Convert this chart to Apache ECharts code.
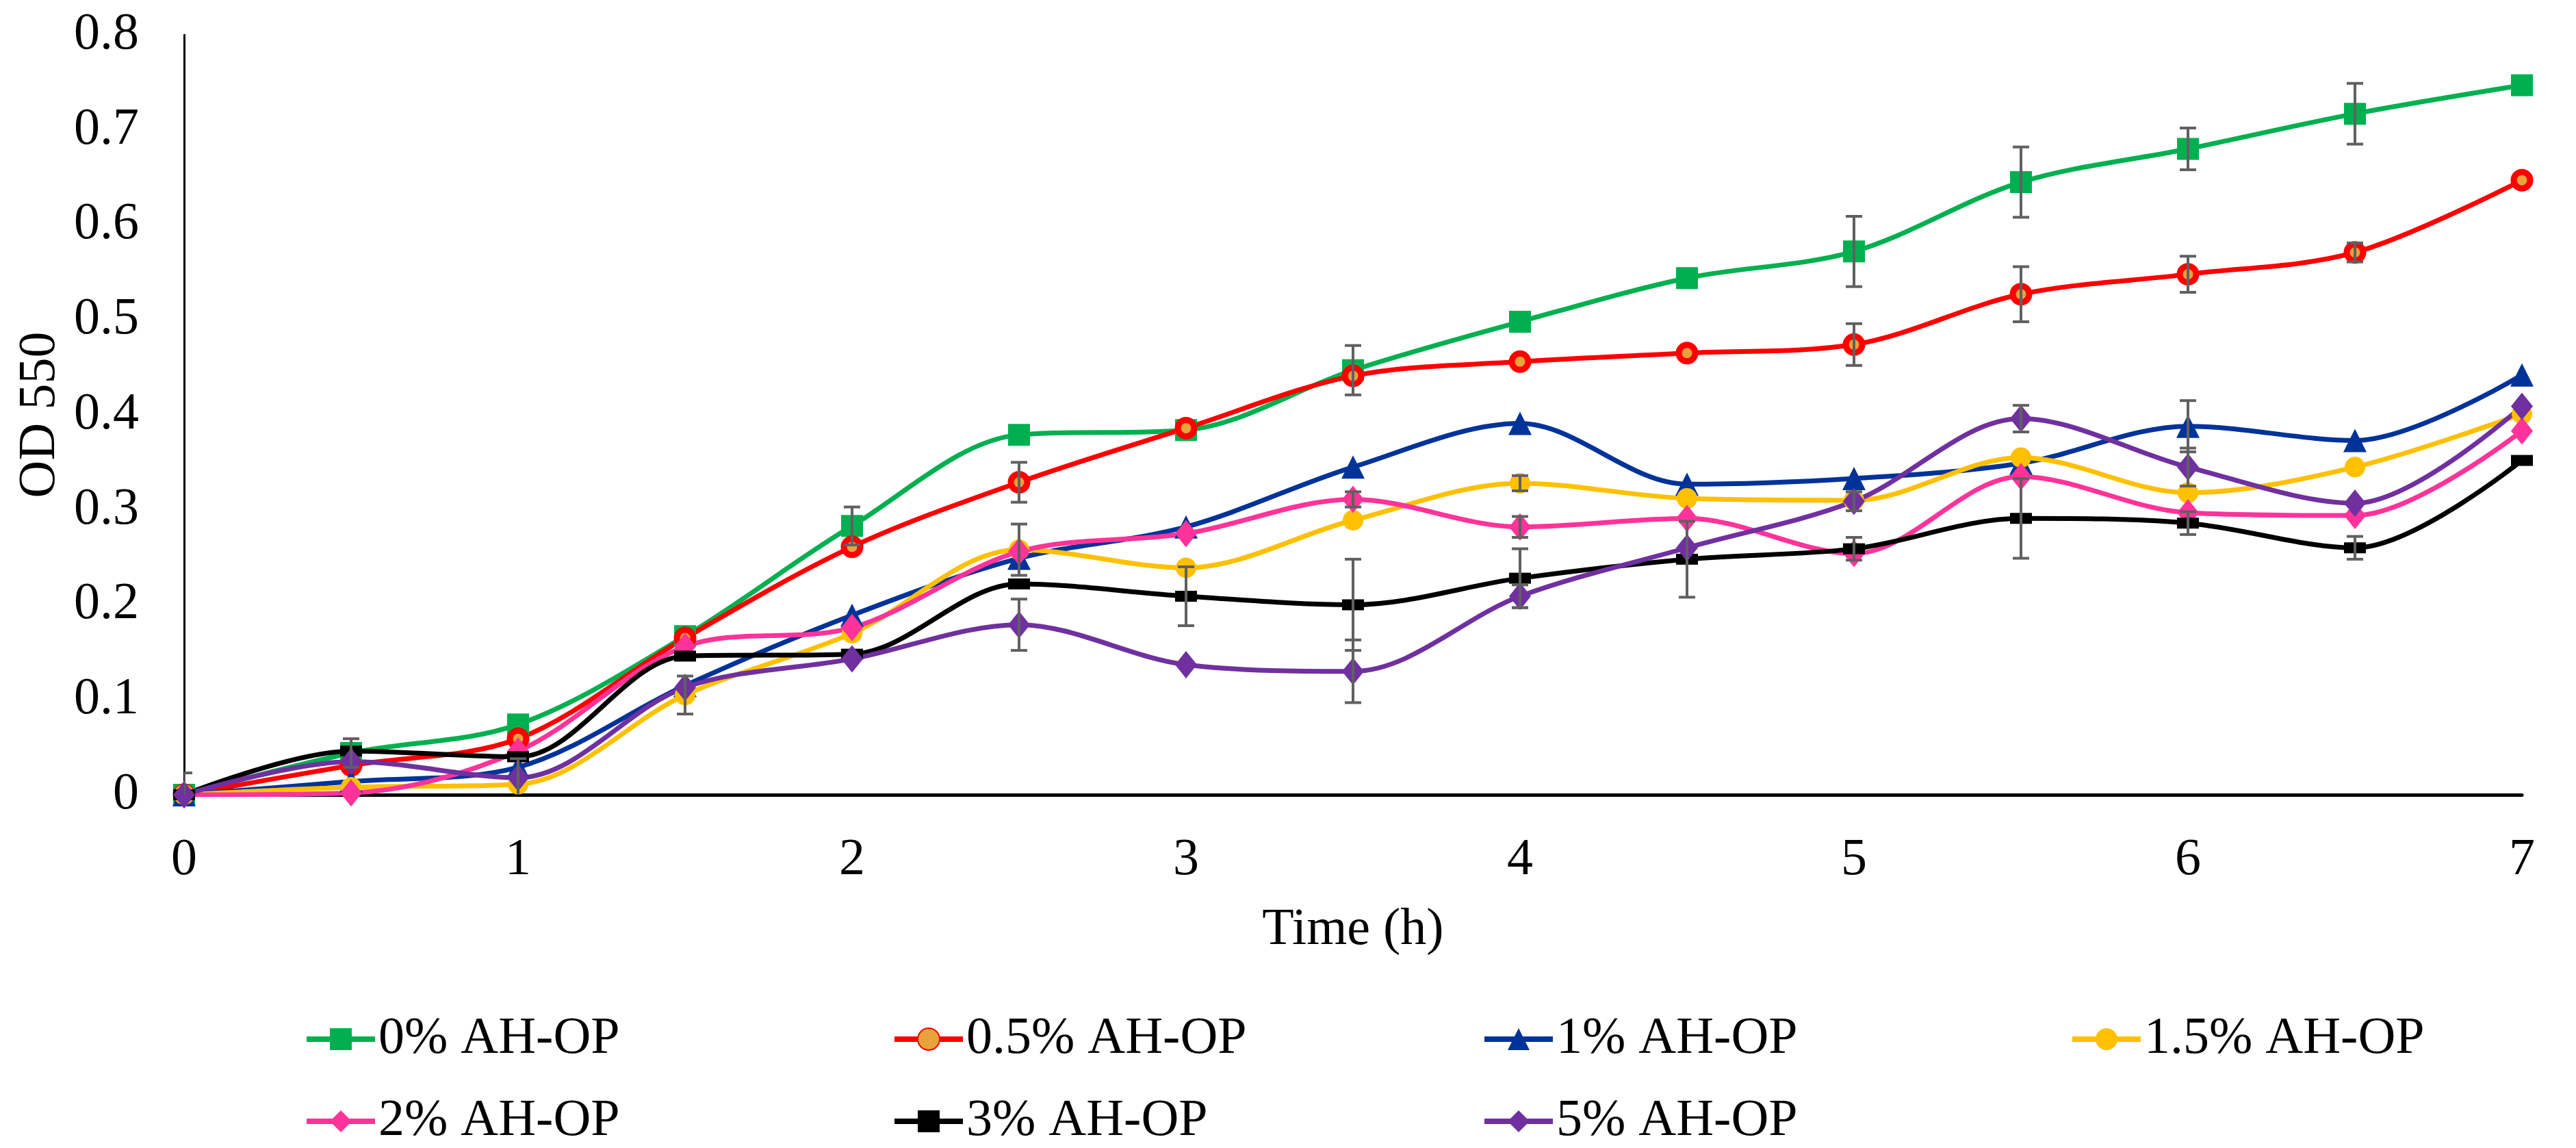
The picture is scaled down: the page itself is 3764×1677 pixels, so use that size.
<!DOCTYPE html>
<html>
<head>
<meta charset="utf-8">
<script src="https://cdn.jsdelivr.net/npm/echarts@6/dist/echarts.min.js"></script>
<style>
html,body{margin:0;padding:0;background:#fff;}
#chart{width:3764px;height:1677px;}
</style>
</head>
<body>
<div id="chart"></div>
<script>
const times = [0, 0.5, 1, 1.5, 2, 2.5, 3, 3.5, 4, 4.5, 5, 5.5, 6, 6.5, 7];
const xTicks = [0, 1, 2, 3, 4, 5, 6, 7];
const yTicks = [0, 0.1, 0.2, 0.3, 0.4, 0.5, 0.6, 0.7, 0.8];
const seriesNames = ['0% AH-OP', '0.5% AH-OP', '1% AH-OP', '1.5% AH-OP', '2% AH-OP', '3% AH-OP', '5% AH-OP'];

const od0   = [0, 0.044, 0.074, 0.167, 0.283, 0.379, 0.384, 0.447, 0.498, 0.544, 0.572, 0.645, 0.680, 0.717, 0.747];
const od05  = [0, 0.031, 0.059, 0.165, 0.261, 0.329, 0.386, 0.441, 0.456, 0.465, 0.474, 0.527, 0.548, 0.571, 0.647];
const od1   = [0, 0.014, 0.029, 0.115, 0.189, 0.249, 0.282, 0.345, 0.391, 0.327, 0.333, 0.349, 0.388, 0.373, 0.442];
const od15  = [0, 0.008, 0.011, 0.105, 0.170, 0.258, 0.239, 0.289, 0.328, 0.312, 0.310, 0.355, 0.318, 0.345, 0.401];
const od2   = [0, 0.002, 0.046, 0.156, 0.176, 0.256, 0.275, 0.311, 0.282, 0.291, 0.254, 0.335, 0.297, 0.294, 0.383];
const od3   = [0, 0.046, 0.040, 0.146, 0.148, 0.222, 0.209, 0.200, 0.228, 0.248, 0.259, 0.291, 0.286, 0.260, 0.352];
const od5   = [0, 0.035, 0.018, 0.113, 0.143, 0.179, 0.137, 0.130, 0.209, 0.260, 0.309, 0.396, 0.345, 0.307, 0.409];

const err0  = [0.023, 0.015, 0, 0, 0.020, 0, 0, 0.026, 0, 0, 0.037, 0.037, 0.022, 0.032, 0];
const err05 = [0, 0, 0, 0, 0, 0.021, 0, 0, 0, 0, 0.022, 0.029, 0.019, 0.010, 0];
const err1  = [0, 0, 0, 0, 0, 0, 0, 0, 0, 0, 0, 0, 0.027, 0, 0];
const err15 = [0, 0, 0, 0.020, 0, 0.027, 0, 0, 0.008, 0, 0, 0, 0, 0, 0];
const err2  = [0, 0, 0, 0, 0, 0, 0, 0.008, 0.011, 0, 0, 0, 0, 0, 0];
const err3  = [0, 0, 0, 0, 0, 0, 0.031, 0.048, 0.031, 0.040, 0.012, 0.042, 0.012, 0.012, 0];
const err5  = [0, 0, 0.020, 0, 0, 0.027, 0, 0.033, 0.012, 0, 0.010, 0.014, 0.020, 0, 0];

const values = [od0, od05, od1, od15, od2, od3, od5];
const errors = [err0, err05, err1, err15, err2, err3, err5];
const colors = ['#00B050', '#FF0000', '#003399', '#FFC000', '#FF3399', '#000000', '#7030A0'];
const symbols = ['rect', 'circle', 'triangle', 'circle', 'diamond', 'rect', 'diamond'];
const symbolSizes = [[32, 32], 24, [34, 34], 30, [32, 40], [32, 16], [32, 40]];

const FONT = '"Liberation Serif", "Times New Roman", serif';

const lineSeries = seriesNames.map((name, i) => {
  const s = {
    name: name,
    type: 'line',
    smooth: 0.33,
    data: times.map((t, k) => [t, values[i][k]]),
    symbol: symbols[i],
    symbolSize: symbolSizes[i],
    showAllSymbol: true,
    lineStyle: { color: colors[i], width: 7 },
    itemStyle: { color: colors[i] },
    emphasis: { disabled: true },
    z: 2
  };
  if (i === 1) {
    s.itemStyle = { color: '#E8A33C', borderColor: '#FF0000', borderWidth: 9 };
  }
  return s;
});

const errData = [];
errors.forEach((arr, i) => {
  arr.forEach((e, k) => {
    if (e > 0) errData.push([times[k], Math.max(0, values[i][k] - e), values[i][k] + e]);
  });
});

const errSeries = {
  type: 'custom',
  name: 'err',
  data: errData,
  dimensions: ['x', 'lo', 'hi'],
  encode: { x: 0, y: [1, 2] },
  z: 3,
  clip: true,
  silent: true,
  renderItem: function (params, api) {
    const x = api.value(0), lo = api.value(1), hi = api.value(2);
    const a = api.coord([x, lo]), b = api.coord([x, hi]);
    const cap = 12;
    const st = { stroke: '#606060', lineWidth: 4 };
    const kids = [
      { type: 'line', shape: { x1: a[0], y1: a[1], x2: b[0], y2: b[1] }, style: st },
      { type: 'line', shape: { x1: b[0] - cap, y1: b[1], x2: b[0] + cap, y2: b[1] }, style: st }
    ];
    if (lo > 0) kids.push({ type: 'line', shape: { x1: a[0] - cap, y1: a[1], x2: a[0] + cap, y2: a[1] }, style: st });
    return { type: 'group', children: kids };
  }
};

const legendPos = [
  [444, 1480], [1303, 1480], [2165, 1480], [3024, 1480],
  [444, 1600], [1303, 1600], [2165, 1600]
];
const legends = seriesNames.map((name, i) => ({
  data: [name],
  left: legendPos[i][0],
  top: legendPos[i][1],
  padding: 0,
  itemWidth: 100,
  itemHeight: 40,
  selectedMode: false,
  lineStyle: { width: 8 },
  textStyle: { fontFamily: FONT, fontSize: 76, color: '#000' }
}));

const chart = echarts.init(document.getElementById('chart'), null, { renderer: 'canvas' });
chart.setOption({
  animation: false,
  backgroundColor: '#fff',
  grid: { left: 269, right: 79, top: 51, bottom: 516, containLabel: false },
  xAxis: {
    type: 'value',
    min: xTicks[0],
    max: xTicks[xTicks.length - 1],
    interval: 1,
    name: 'Time (h)',
    nameLocation: 'middle',
    nameGap: 160,
    nameTextStyle: { fontFamily: FONT, fontSize: 76, color: '#000' },
    axisLine: { show: true, lineStyle: { color: '#000', width: 5 } },
    axisTick: { show: false },
    splitLine: { show: false },
    axisLabel: { fontFamily: FONT, fontSize: 76, color: '#000', margin: 58 }
  },
  yAxis: {
    type: 'value',
    min: yTicks[0],
    max: yTicks[yTicks.length - 1],
    interval: 0.1,
    name: 'OD 550',
    nameLocation: 'middle',
    nameGap: 156,
    nameTextStyle: { fontFamily: FONT, fontSize: 76, color: '#000' },
    axisLine: { show: true, lineStyle: { color: '#000', width: 3 } },
    axisTick: { show: false },
    splitLine: { show: false },
    axisLabel: {
      fontFamily: FONT, fontSize: 76, color: '#000', margin: 66,
      formatter: v => String(Math.round(v * 10) / 10)
    }
  },
  legend: legends,
  series: [...lineSeries, errSeries]
});
</script>
</body>
</html>
